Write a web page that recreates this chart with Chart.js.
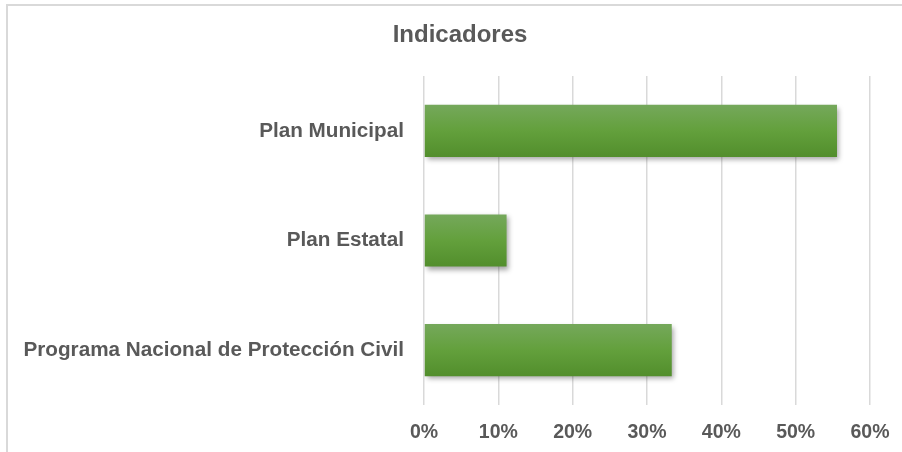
<!DOCTYPE html>
<html>
<head>
<meta charset="utf-8">
<script src="https://cdn.jsdelivr.net/npm/chart.js@4.4.1/dist/chart.umd.min.js"></script>
<style>
    html, body { margin: 0; padding: 0; background: #ffffff; }
    canvas { display: block; }
</style>
</head>
<body>
<canvas id="indicadores" width="902" height="452"></canvas>
<script>

/***************************************************/
/********************* DATA ************************/
/***************************************************/
const titulo = 'Indicadores';
const categorias = ['Plan Municipal', 'Plan Estatal', 'Programa Nacional de Protección Civil'];
const porcentajes = [55.56, 11.11, 33.33];
const ticksX = [0, 10, 20, 30, 40, 50, 60];

/***************************************************/
/******************* SETTINGS **********************/
/***************************************************/
const textColor = '#595959';
const gridColor = '#d9d9d9';
const fontFamily = '"Liberation Sans", Arial, sans-serif';

// vertical gradient for each bar, built from the bar's own band
function barGradient(context) {
    const chart = context.chart;
    const yScale = chart.scales.y;
    if (!yScale || yScale.height == null) {
        return '#62a03a';
    }
    const band = yScale.height / categorias.length * 0.475;
    const yc = yScale.getPixelForValue(context.dataIndex);
    const g = chart.ctx.createLinearGradient(0, yc - band / 2, 0, yc + band / 2);
    g.addColorStop(0, '#75a85b');
    g.addColorStop(0.5, '#63a03c');
    g.addColorStop(1, '#528e2c');
    return g;
}

// light frame on the top and left, plus the title
const framePlugin = {
    id: 'frame',
    beforeDraw(chart) {
        const ctx = chart.ctx;
        ctx.save();
        ctx.strokeStyle = gridColor;
        ctx.lineWidth = 2;
        ctx.beginPath();
        ctx.moveTo(7, chart.height);
        ctx.lineTo(7, 5);
        ctx.lineTo(chart.width, 5);
        ctx.stroke();

        ctx.fillStyle = textColor;
        ctx.font = 'bold 24px ' + fontFamily;
        ctx.textAlign = 'center';
        ctx.textBaseline = 'middle';
        ctx.fillText(titulo, 460, 35);
        ctx.restore();
    }
};

// soft drop shadow under the bars
const shadowPlugin = {
    id: 'barShadow',
    beforeDatasetsDraw(chart) {
        const ctx = chart.ctx;
        ctx.save();
        ctx.shadowColor = 'rgba(0, 0, 0, 0.35)';
        ctx.shadowBlur = 5;
        ctx.shadowOffsetX = 2;
        ctx.shadowOffsetY = 3;
    },
    afterDatasetsDraw(chart) {
        chart.ctx.restore();
    }
};

/***************************************************/
/***************** DRAWING CHART *******************/
/***************************************************/
var data = {
    labels: categorias,
    datasets: [{
        label: titulo,
        data: porcentajes,
        backgroundColor: barGradient,
        borderWidth: 0,
        barPercentage: 0.475,
        categoryPercentage: 1
    }]
};

var options = {
    indexAxis: 'y',
    responsive: false,
    animation: false,
    layout: {
        padding: { top: 76, right: 32, bottom: 0, left: 0 }
    },
    plugins: {
        legend: { display: false },
        tooltip: { enabled: false },
        title: { display: false }
    },
    scales: {
        x: {
            min: 0,
            max: 60,
            afterBuildTicks: function(scale) {
                scale.ticks = ticksX.map(v => ({ value: v }));
            },
            afterFit: function(scale) {
                scale.height = 47;
                scale.paddingLeft = 0;
                scale.paddingRight = 0;
            },
            border: { display: false },
            grid: {
                color: gridColor,
                lineWidth: 1.5,
                drawTicks: false
            },
            ticks: {
                color: textColor,
                padding: 16,
                font: { family: fontFamily, size: 19.5, weight: 'bold' },
                callback: function(value) { return value + '%'; }
            }
        },
        y: {
            afterFit: function(scale) {
                scale.width = 424;
            },
            border: { display: false },
            grid: { display: false, drawTicks: false },
            ticks: {
                color: textColor,
                padding: 20,
                font: { family: fontFamily, size: 20.7, weight: 'bold' }
            }
        }
    }
};

const ctx = document.getElementById('indicadores').getContext('2d');
const barChart = new Chart(ctx, {
    type: 'bar',
    data: data,
    options: options,
    plugins: [framePlugin, shadowPlugin]
});
</script>
</body>
</html>
